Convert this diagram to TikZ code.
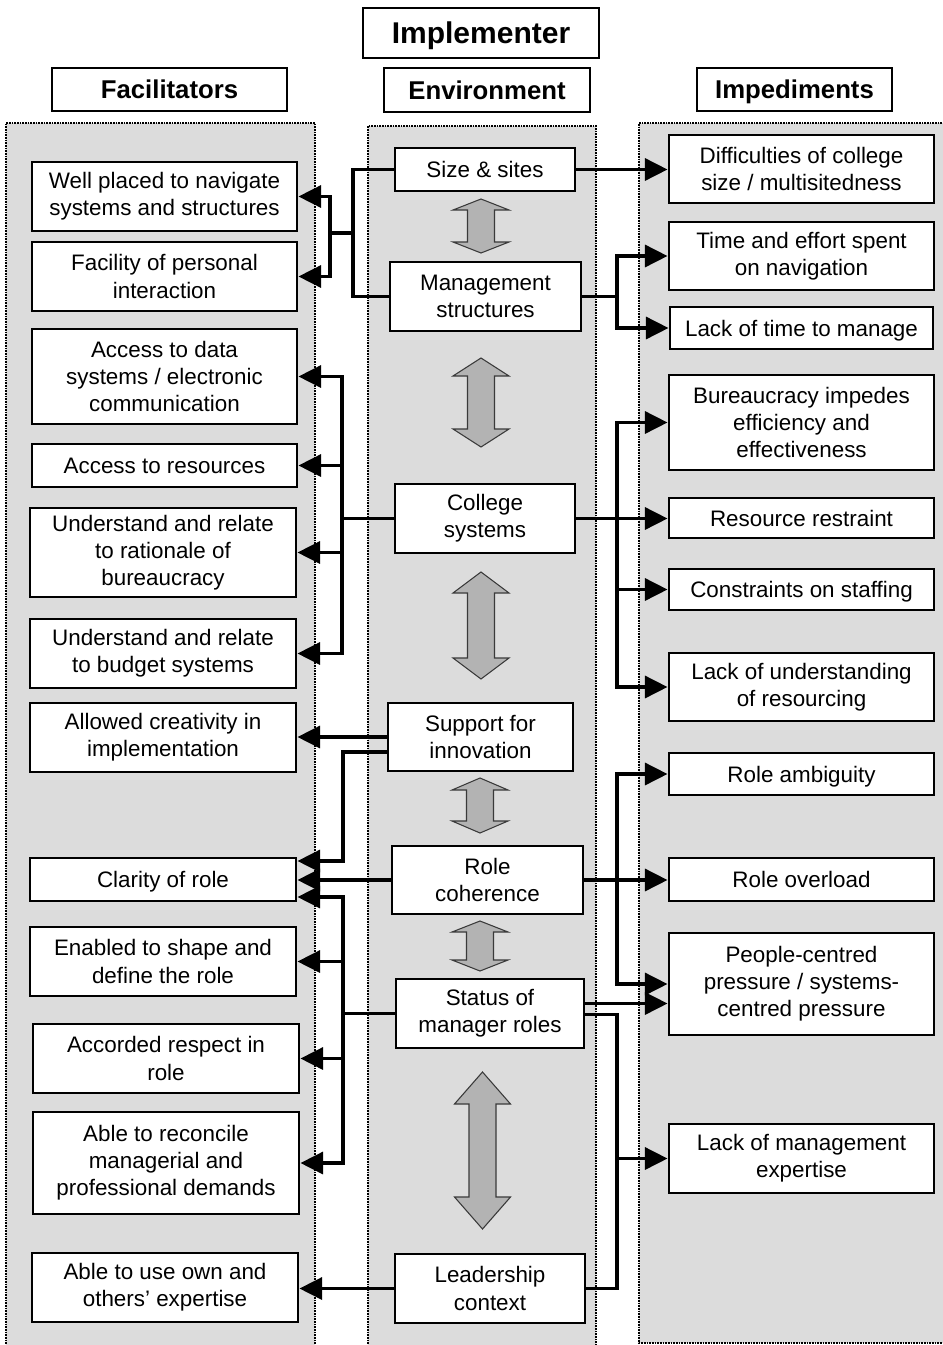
\documentclass[tikz,border=0pt]{standalone}
\usepackage{fontspec}
\setmainfont{Liberation Sans}
\usetikzlibrary{arrows.meta,calc}

\definecolor{panelgray}{HTML}{DCDCDC}
\definecolor{arrgray}{HTML}{B3B3B3}
\definecolor{arredge}{HTML}{3A3A3A}

% box from corner (x1,y1) to (x2,y2), in pixel units
\newcommand\pbox[7][box]{%
  \node[#1,minimum width={(#5-#3)*0.75pt},minimum height={(#6-#4)*0.75pt}]
    (#2) at ({(#3+#5)/2},{(#4+#6)/2}) {#7};}

% grey two-headed arrow: centre x, top y, bottom y, head length
\newcommand\twoway[4]{%
  \filldraw[twowaystyle] (#1,#2) -- (#1+28,#2+#4) -- (#1+13.5,#2+#4)
    -- (#1+13.5,#3-#4) -- (#1+28,#3-#4) -- (#1,#3) -- (#1-28,#3-#4)
    -- (#1-13.5,#3-#4) -- (#1-13.5,#2+#4) -- (#1-28,#2+#4) -- cycle;}

\begin{document}
\begin{tikzpicture}[x=0.75pt,y=-0.75pt,
  box/.style={draw=black,fill=white,line width=2.2pt,inner sep=0pt,align=center,
    font=\fontsize{16.8pt}{20.3pt}\selectfont},
  one/.style={box,text height=13.8pt,text depth=1.8pt},
  hbox/.style={draw=black,fill=white,line width=0.8pt,inner sep=0pt,
    font=\bfseries\fontsize{19.3pt}{23pt}\selectfont,text height=15.9pt,text depth=2.1pt},
  tbox/.style={hbox,font=\bfseries\fontsize{22.5pt}{26pt}\selectfont,
    text height=18.5pt,text depth=2.4pt},
  panel/.style={fill=panelgray},
  pedge/.style={line width=1pt,dash pattern=on 1.2pt off 0.8pt},
  twowaystyle/.style={fill=arrgray,draw=arredge,line width=0.8pt,line join=miter},
  conn/.style={line width=2.6pt},
  arr/.style={conn,-{Triangle[length=17pt,width=16.5pt]}}]

\useasboundingbox (0,0) rectangle (942,1345);

% column panels
\fill[panel] (6,123) rectangle (315,1360);
\draw[pedge] (6,1360) -- (6,123) -- (315,123) -- (315,1360);
\fill[panel] (368,126) rectangle (596,1360);
\draw[pedge] (368,1360) -- (368,126) -- (596,126) -- (596,1360);
\fill[panel] (639,123) rectangle (950,1343);
\draw[pedge] (950,123) -- (639,123) -- (639,1343) -- (950,1343);

% headings
\pbox[tbox]{impl}{363}{8}{599}{58}{Implementer}
\pbox[hbox]{fac}{52}{68}{287}{111}{Facilitators}
\pbox[hbox]{env}{384}{68}{590}{112}{Environment}
\pbox[hbox]{imp}{697}{68}{892}{111}{Impediments}

% environment column
\pbox[one]{sz}{395}{148}{575}{191}{Size \& sites}
\pbox{mg}{390}{262}{581}{331}{Management\\structures}
\pbox{cs}{395}{484}{575}{553}{College\\systems}
\pbox{si}{388}{703}{573}{771}{Support for\\innovation}
\pbox{rc}{392}{846}{583}{914}{Role\\coherence}
\pbox{sm}{396}{979}{584}{1048}{Status of\\manager roles}
\pbox{lc}{395}{1254}{585}{1323}{Leadership\\context}

% facilitators column
\pbox{f1}{32}{162}{297}{231}{Well placed to navigate\\systems and structures}
\pbox{f2}{32}{242}{297}{311}{Facility of personal\\interaction}
\pbox{f3}{32}{329}{297}{424}{Access to data\\systems / electronic\\communication}
\pbox[one]{f4}{32}{444}{297}{487}{Access to resources}
\pbox{f5}{30}{508}{296}{597}{Understand and relate\\to rationale of\\bureaucracy}
\pbox{f6}{30}{619}{296}{688}{Understand and relate\\to budget systems}
\pbox{f7}{30}{703}{296}{772}{Allowed creativity in\\implementation}
\pbox[one]{f8}{30}{858}{296}{901}{Clarity of role}
\pbox{f9}{30}{927}{296}{996}{Enabled to shape and\\define the role}
\pbox{f10}{33}{1024}{299}{1093}{Accorded respect in\\role}
\pbox{f11}{33}{1112}{299}{1214}{Able to reconcile\\managerial and\\professional demands}
\pbox{f12}{32}{1253}{298}{1322}{Able to use own and\\others’ expertise}

% impediments column
\pbox{i1}{669}{135}{934}{203}{Difficulties of college\\size / multisitedness}
\pbox{i2}{669}{222}{934}{290}{Time and effort spent\\on navigation}
\pbox[one]{i3}{670}{307}{933}{349}{Lack of time to manage}
\pbox{i4}{669}{375}{934}{470}{Bureaucracy impedes\\efficiency and\\effectiveness}
\pbox[one]{i5}{669}{498}{934}{538}{Resource restraint}
\pbox[one]{i6}{669}{569}{934}{610}{Constraints on staffing}
\pbox{i7}{669}{653}{934}{721}{Lack of understanding\\of resourcing}
\pbox[one]{i8}{669}{753}{934}{795}{Role ambiguity}
\pbox[one]{i9}{669}{858}{934}{901}{Role overload}
\pbox{i10}{669}{933}{934}{1035}{People-centred\\pressure / systems-\\centred pressure}
\pbox{i11}{669}{1124}{934}{1193}{Lack of management\\expertise}

% two-way links inside the environment column
\twoway{481}{199}{253}{11}
\twoway{481}{358}{447}{18}
\twoway{481}{572}{679}{21}
\twoway{480}{778}{833}{12}
\twoway{480}{921}{971}{11}
\twoway{482.5}{1072}{1229}{32}

% spine positions
\coordinate (xL1) at (353,0);
\coordinate (xL3) at (342,0);
\coordinate (xL4) at (343,0);
\coordinate (xR) at (617,0);
\coordinate (j1) at (353,233);
\coordinate (k1) at (330,233);

% left-hand links
\draw[conn] (sz.west) -- (sz.west -| xL1) |- (mg.west);
\draw[conn] (j1) -- (k1);
\draw[arr] (k1) |- (f1);
\draw[arr] (k1) |- (f2);

\draw[conn] (cs.west) -- (cs.west -| xL3);
\draw[arr] (cs.west -| xL3) |- (f3);
\draw[arr] (cs.west -| xL3) |- (f4);
\draw[arr] (cs.west -| xL3) |- (f5);
\draw[arr] (cs.west -| xL3) |- (f6);

\draw[arr] (si.west) -- (si.west -| f7.east);
\draw[arr] ($(si.west)+(0,15)$) -| (343,861) -- ($(f8.east)+(0,-18.5)$);
\draw[arr] (rc.west) -- (rc.west -| f8.east);

\draw[conn] (sm.west) -- (sm.west -| xL4);
\draw[arr] (sm.west -| xL4) |- ($(f8.east)+(0,17.5)$);
\draw[arr] (sm.west -| xL4) |- (f9);
\draw[arr] (sm.west -| xL4) |- (f10);
\draw[arr] (sm.west -| xL4) |- (f11);

\draw[arr] (lc.west) -- (lc.west -| f12.east);

% right-hand links
\draw[arr] (sz.east) -- (sz.east -| i1.west);

\draw[conn] (mg.east) -- (mg.east -| xR);
\draw[arr] (mg.east -| xR) |- (i2);
\draw[arr] (mg.east -| xR) |- (i3);

\draw[arr] (cs.east) -- (cs.east -| i5.west);
\draw[arr] (cs.east -| xR) |- (i4);
\draw[arr] (cs.east -| xR) |- (i6);
\draw[arr] (cs.east -| xR) |- (i7);

\draw[arr] (rc.east) -- (rc.east -| i9.west);
\draw[arr] (rc.east -| xR) |- (i8);
\draw[arr] (rc.east -| xR) |- (i10);

\draw[arr] ($(sm.east)+(0,-10)$) -- ($(i10.west)+(0,19.5)$);
\draw[conn] ($(sm.east)+(0,1)$) -| (lc.east -| xR) -- (lc.east);
\draw[arr] (i11 -| xR) -- (i11.west);

\end{tikzpicture}
\end{document}
